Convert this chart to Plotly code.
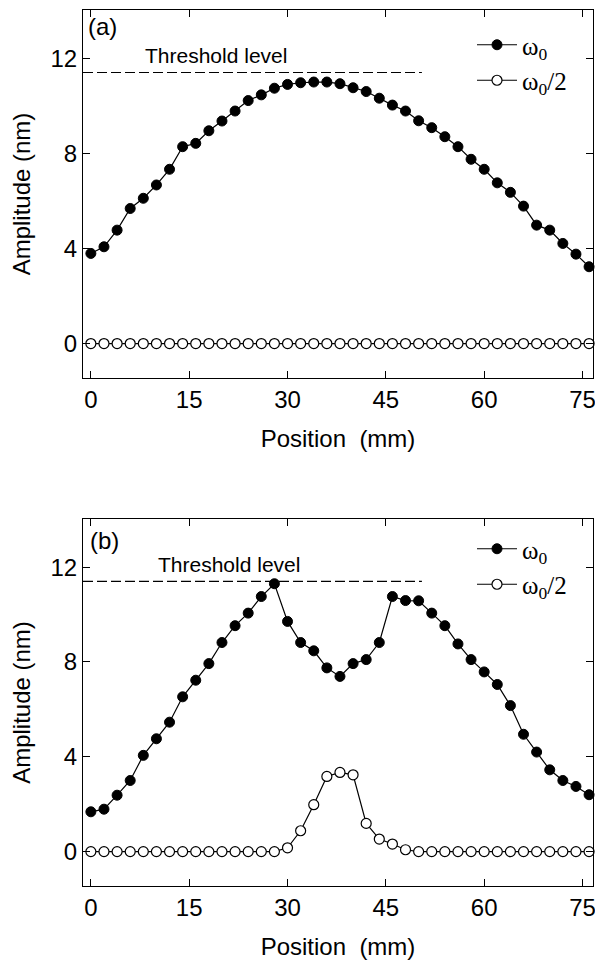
import plotly.graph_objects as go

# ---------------- data ----------------
position_mm = [0, 2, 4, 6, 8, 10, 12, 14, 16, 18, 20, 22, 24, 26, 28, 30, 32, 34, 36, 38,
               40, 42, 44, 46, 48, 50, 52, 54, 56, 58, 60, 62, 64, 66, 68, 70, 72, 74, 76]

a_omega0 = [3.79, 4.07, 4.77, 5.68, 6.11, 6.67, 7.33, 8.28, 8.42, 8.95, 9.36, 9.78, 10.22,
            10.46, 10.74, 10.90, 10.97, 11.00, 11.00, 10.93, 10.76, 10.60, 10.32, 10.03,
            9.78, 9.37, 9.08, 8.70, 8.28, 7.75, 7.33, 6.76, 6.36, 5.78, 4.98, 4.77, 4.21,
            3.76, 3.23]
a_omega0_half = [0.0] * 39

b_omega0 = [1.68, 1.79, 2.38, 3.00, 4.06, 4.76, 5.46, 6.53, 7.23, 7.93, 8.82, 9.53, 10.06,
            10.76, 11.30, 9.71, 8.82, 8.47, 7.75, 7.39, 7.93, 8.10, 8.82, 10.76, 10.59,
            10.58, 10.06, 9.53, 8.76, 8.10, 7.58, 7.05, 6.16, 4.95, 4.20, 3.45, 3.00,
            2.75, 2.40]
b_omega0_half = [0, 0, 0, 0, 0, 0, 0, 0, 0, 0, 0, 0, 0, 0, 0, 0.16, 0.88, 1.98, 3.17,
                 3.34, 3.24, 1.19, 0.53, 0.32, 0.08, 0, 0, 0, 0, 0, 0, 0, 0, 0, 0, 0, 0,
                 0, 0]

threshold_level = 11.4
threshold_end_mm = 50.5

x_ticks = [0, 15, 30, 45, 60, 75]
y_ticks = [0, 4, 8, 12]
x_range = [-1.2, 76.6]
y_range = [-1.45, 14.03]

series_names = ["ω<sub>0</sub>", "ω<sub>0</sub>/2"]
panel_labels = ["(a)", "(b)"]

# ---------------- figure ----------------
W, H = 595, 960
fig = go.Figure()

SANS = "Liberation Sans, Arial, sans-serif"
SERIF = "Liberation Serif, Times New Roman, serif"

panels = [
    (a_omega0, a_omega0_half, "x", "y", "legend"),
    (b_omega0, b_omega0_half, "x2", "y2", "legend2"),
]

for full, half, xa, ya, lg in panels:
    fig.add_trace(go.Scatter(
        x=position_mm, y=full, mode="lines+markers", name=series_names[0],
        xaxis=xa, yaxis=ya, legend=lg, cliponaxis=False,
        line=dict(color="black", width=1.2),
        marker=dict(symbol="circle", size=10, color="black", line=dict(color="black", width=1)),
    ))
    fig.add_trace(go.Scatter(
        x=position_mm, y=half, mode="lines+markers", name=series_names[1],
        xaxis=xa, yaxis=ya, legend=lg, cliponaxis=False,
        line=dict(color="black", width=1.2),
        marker=dict(symbol="circle", size=10, color="white", line=dict(color="black", width=1.2)),
    ))

def px_x(p):
    return p / W

def px_y(p):
    return 1 - p / H

x_dom = [px_x(83), px_x(593)]
top_dom = [px_y(378), px_y(10)]
bot_dom = [px_y(886), px_y(519)]

axis_common = dict(
    showline=True, linecolor="black", linewidth=1.2, mirror="ticks",
    ticks="inside", ticklen=7, tickwidth=1, tickcolor="black",
    showgrid=False, zeroline=False, automargin=False,
    tickfont=dict(family=SANS, size=24, color="black"),
    title_font=dict(family=SANS, size=24, color="black"),
    ticklabeloverflow="allow",
)

legend_common = dict(xanchor="left", yanchor="top", bgcolor="rgba(0,0,0,0)",
                     font=dict(family=SERIF, size=25, color="black"),
                     tracegroupgap=0, itemwidth=40)

fig.update_layout(
    xaxis=dict(domain=x_dom, anchor="y", range=x_range, tickvals=x_ticks,
               title=dict(text="Position  (mm)", standoff=18), **axis_common),
    yaxis=dict(domain=top_dom, anchor="x", range=y_range, tickvals=y_ticks,
               title=dict(text="Amplitude (nm)", standoff=12), **axis_common),
    xaxis2=dict(domain=x_dom, anchor="y2", range=x_range, tickvals=x_ticks,
                title=dict(text="Position  (mm)", standoff=18), **axis_common),
    yaxis2=dict(domain=bot_dom, anchor="x2", range=y_range, tickvals=y_ticks,
                title=dict(text="Amplitude (nm)", standoff=12), **axis_common),
    legend=dict(x=px_x(472), y=px_y(22), **legend_common),
    legend2=dict(x=px_x(472), y=px_y(526), **legend_common),
    showlegend=True,
    width=W, height=H,
    margin=dict(l=0, r=0, t=0, b=0),
    paper_bgcolor="white", plot_bgcolor="white",
)

# threshold lines
for xr, yr in (("x", "y"), ("x2", "y2")):
    fig.add_shape(type="line", xref=xr, yref=yr,
                  x0=x_range[0], x1=threshold_end_mm, y0=threshold_level, y1=threshold_level,
                  line=dict(color="black", width=1.2, dash="10px,4px"))

# threshold labels
fig.add_annotation(xref="x", yref="y", x=19.1, y=12.1, text="Threshold level",
                   showarrow=False, xanchor="center", yanchor="middle",
                   font=dict(family=SANS, size=21, color="black"))
fig.add_annotation(xref="x2", yref="y2", x=21.0, y=12.1, text="Threshold level",
                   showarrow=False, xanchor="center", yanchor="middle",
                   font=dict(family=SANS, size=21, color="black"))

# panel labels
fig.add_annotation(xref="paper", yref="paper", x=px_x(86), y=px_y(26.7), text=panel_labels[0],
                   showarrow=False, xanchor="left", yanchor="middle",
                   font=dict(family=SANS, size=24, color="black"))
fig.add_annotation(xref="paper", yref="paper", x=px_x(88), y=px_y(540), text=panel_labels[1],
                   showarrow=False, xanchor="left", yanchor="middle",
                   font=dict(family=SANS, size=24, color="black"))

fig.write_html("out.html", config={"displayModeBar": False},
               post_script="document.body.style.margin='0';")
